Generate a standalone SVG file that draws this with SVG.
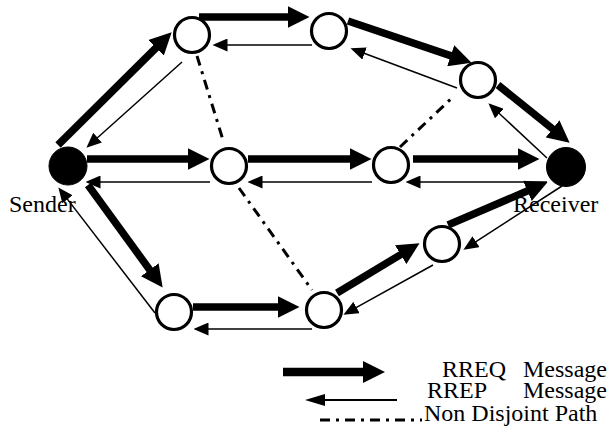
<svg xmlns="http://www.w3.org/2000/svg" width="611" height="442" viewBox="0 0 611 442">
<style>
.thick{stroke:#000;stroke-width:7.5;fill:none;marker-end:url(#hThick)}
.thin{stroke:#000;stroke-width:1.5;fill:none;marker-end:url(#hThin)}
.dd{stroke:#000;stroke-width:3;fill:none;stroke-dasharray:10 6 3 6}
.node{fill:#fff;stroke:#000;stroke-width:3.2}
.end{fill:#000;stroke:#000;stroke-width:1}
text{font-family:"Liberation Serif","Times New Roman",serif;font-size:24px;fill:#000}
</style>
<defs>
<marker id="hThick" markerUnits="userSpaceOnUse" viewBox="0 -11 22 22" markerWidth="22" markerHeight="22" refX="0.5" refY="0" orient="auto"><path d="M0,-11 L22,0 L0,11 z" fill="#000"/></marker>
<marker id="hThin" markerUnits="userSpaceOnUse" viewBox="0 -6.5 15 13" markerWidth="15" markerHeight="13" refX="0.5" refY="0" orient="auto"><path d="M0,-6.5 L15,0 L0,6.5 z" fill="#000"/></marker>
</defs>
<rect width="611" height="442" fill="#fff"/>
<g id="connectors">
<line class="thick" x1="58" y1="145" x2="156.4" y2="47.5"/>
<line class="thick" x1="199" y1="17" x2="288" y2="17"/>
<line class="thick" x1="348" y1="21" x2="451.2" y2="55.9"/>
<line class="thick" x1="498" y1="85" x2="552.9" y2="129.2"/>
<line class="thick" x1="87" y1="159" x2="188" y2="159"/>
<line class="thick" x1="248" y1="159" x2="350" y2="159"/>
<line class="thick" x1="413" y1="159" x2="518" y2="159"/>
<line class="thick" x1="88" y1="185" x2="150" y2="270.2"/>
<line class="thick" x1="193" y1="307" x2="278" y2="307"/>
<line class="thick" x1="337" y1="293" x2="401.1" y2="254.4"/>
<line class="thick" x1="448" y1="225" x2="527.8" y2="190.7"/>
<line class="thin" x1="182" y1="62" x2="97.2" y2="138"/>
<line class="thin" x1="312" y1="45" x2="227" y2="45"/>
<line class="thin" x1="457" y1="88" x2="364.1" y2="53.3"/>
<line class="thin" x1="547" y1="158" x2="499" y2="113.2"/>
<line class="thin" x1="210" y1="182" x2="100" y2="182"/>
<line class="thin" x1="372" y1="182" x2="262" y2="182"/>
<line class="thin" x1="547" y1="182" x2="420" y2="182"/>
<line class="thin" x1="155" y1="313" x2="67.2" y2="198.9"/>
<line class="thin" x1="312" y1="329" x2="208" y2="329"/>
<line class="thin" x1="433" y1="265" x2="356.1" y2="307.7"/>
<line class="thin" x1="562" y1="186" x2="475.6" y2="241.9"/>
<line class="dd" x1="197" y1="56" x2="223" y2="140"/>
<line class="dd" x1="239" y1="188" x2="312" y2="290"/>
<line class="dd" x1="400" y1="147" x2="453" y2="97"/>
</g>
<g id="sender"><circle class="end" cx="68" cy="166" r="19"/></g>
<g id="receiver"><circle class="end" cx="566" cy="167" r="19.5"/></g>
<g id="nA"><circle class="node" cx="192" cy="35" r="17.5"/></g>
<g id="nB"><circle class="node" cx="329" cy="31" r="17.5"/></g>
<g id="nC"><circle class="node" cx="478" cy="80" r="17.5"/></g>
<g id="nD"><circle class="node" cx="229" cy="166" r="17.5"/></g>
<g id="nE"><circle class="node" cx="391" cy="165" r="17.5"/></g>
<g id="nF"><circle class="node" cx="174" cy="312" r="17.5"/></g>
<g id="nG"><circle class="node" cx="324" cy="310" r="17.5"/></g>
<g id="nH"><circle class="node" cx="442" cy="244" r="17.5"/></g>
<g id="labels">
<text x="9" y="212">Sender</text>
<text x="513" y="212">Receiver</text>
</g>
<g id="legend">
<line x1="283" y1="372" x2="363.5" y2="372" stroke="#000" stroke-width="8.5"/>
<path d="M363,361 L385,372 L363,383 z" fill="#000"/>
<line x1="397" y1="400" x2="323" y2="400" stroke="#000" stroke-width="2"/>
<path d="M325,394 L305,400 L325,406 z" fill="#000"/>
<line class="dd" x1="320" y1="420" x2="422" y2="420" stroke-width="2.2"/>
<text y="377"><tspan x="442">RREQ</tspan><tspan x="607" text-anchor="end">Message</tspan></text>
<text y="398"><tspan x="427">RREP</tspan><tspan x="607" text-anchor="end">Message</tspan></text>
<text x="424" y="421">Non Disjoint Path</text>
</g>
</svg>
